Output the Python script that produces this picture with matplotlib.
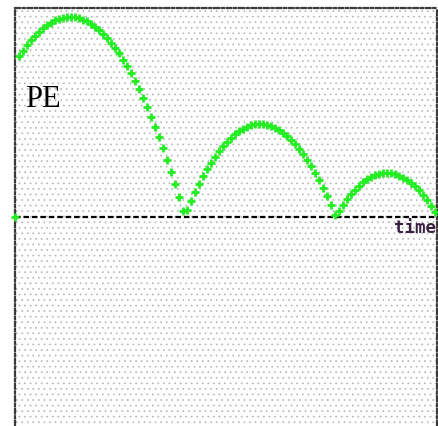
import matplotlib
matplotlib.use("Agg")
import matplotlib.pyplot as plt
from matplotlib.patches import Rectangle

# time steps and potential energy values
time = list(range(0, 106))
pe = [0.0,
      160.6, 166.5, 172.0, 176.9, 181.4, 185.4, 189.0, 192.0, 194.5, 196.6,
      198.2, 199.3, 199.9, 200.0, 199.6, 198.8, 197.4, 195.6, 193.3, 190.5,
      187.2, 183.5, 179.2, 174.5, 169.3, 163.6, 157.4, 150.7, 143.6, 135.9,
      127.8, 119.2, 110.1, 100.5, 90.5, 79.9, 68.9, 57.3, 45.3, 32.8,
      19.9, 6.4,
      7.2, 16.3, 25.0, 33.1, 40.7, 47.8, 54.3, 60.4, 65.9, 71.0,
      75.5, 79.5, 82.9, 85.9, 88.3, 90.3, 91.7, 92.6, 93.0, 92.9,
      92.2, 91.1, 89.4, 87.2, 84.5, 81.3, 77.5, 73.3, 68.5, 63.2,
      57.4, 51.1, 44.3, 37.0, 29.1, 20.7, 11.8, 2.4,
      6.4, 12.5, 18.0, 23.0, 27.4, 31.4, 34.8, 37.6, 40.0, 41.8,
      43.0, 43.8, 44.0, 43.7, 42.8, 41.5, 39.5, 37.1, 34.1, 30.6,
      26.6, 22.0, 16.9, 11.3, 5.1]

plt.rcParams['hatch.linewidth'] = 0.5

fig = plt.figure(figsize=(4.39, 4.26), dpi=100)
ax = fig.add_axes([15/439, 0.0, (437-15)/439, (426-8)/426])
ax.set_xlim(0, 105.5)
ax.set_ylim(-209, 209)

ax.add_patch(Rectangle((0, 0), 1, 1, transform=ax.transAxes,
                       facecolor='white', edgecolor='#b6b6b6',
                       hatch='...', linewidth=0, zorder=0))

for side in ['left', 'top', 'right']:
    ax.spines[side].set_linestyle((0, (2.2, 1.2, 1, 1.2)))
    ax.spines[side].set_linewidth(1.6)
    ax.spines[side].set_color('#3a3a3a')
ax.spines['bottom'].set_visible(False)
ax.set_xticks([])
ax.set_yticks([])

ax.axhline(0, color='black', ls=(0, (2.5, 1.3)), lw=1.6, zorder=2)

ax.plot(time, pe, ls='none', marker='+', color='#22ee22',
        markersize=6, markeredgewidth=2.0, zorder=3, clip_on=False)

ax.text(10/422, (426-107)/418, 'PE', transform=ax.transAxes,
        family='Liberation Serif', fontsize=22, color='black',
        ha='left', va='baseline')
ax.text(0.998, 0.5 - 2/418, 'time', transform=ax.transAxes,
        family='DejaVu Sans Mono', fontsize=12.5, fontweight='bold',
        color='#3a2040', ha='right', va='top')

fig.savefig('out.png', dpi=100)
